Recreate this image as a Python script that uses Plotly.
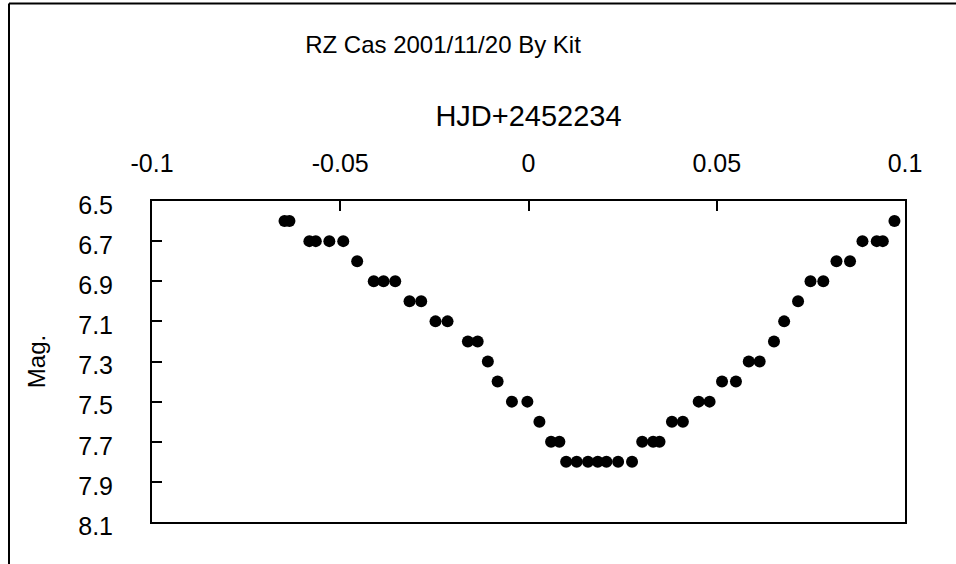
import plotly.graph_objects as go

# Observation times (HJD - 2452234) and visual magnitudes
hjd = [-0.0648, -0.0635, -0.0582, -0.0565, -0.0529, -0.0492, -0.0455,
       -0.0411, -0.0385, -0.0354, -0.0316, -0.0285, -0.0247, -0.0215,
       -0.0161, -0.0135, -0.0108, -0.0082, -0.0044, -0.0003, 0.0029,
       0.0060, 0.0082, 0.0100, 0.0128, 0.0158, 0.0184, 0.0207, 0.0238,
       0.0275, 0.0302, 0.0331, 0.0348, 0.0381, 0.0410, 0.0452, 0.0481,
       0.0514, 0.0551, 0.0585, 0.0614, 0.0652, 0.0679, 0.0716, 0.0749,
       0.0783, 0.0818, 0.0854, 0.0887, 0.0925, 0.0941, 0.0972]
mag = [6.6, 6.6, 6.7, 6.7, 6.7, 6.7, 6.8,
       6.9, 6.9, 6.9, 7.0, 7.0, 7.1, 7.1,
       7.2, 7.2, 7.3, 7.4, 7.5, 7.5, 7.6,
       7.7, 7.7, 7.8, 7.8, 7.8, 7.8, 7.8, 7.8,
       7.8, 7.7, 7.7, 7.7, 7.6, 7.6, 7.5, 7.5,
       7.4, 7.4, 7.3, 7.3, 7.2, 7.1, 7.0, 6.9,
       6.9, 6.8, 6.8, 6.7, 6.7, 6.7, 6.6]

x_ticks = [-0.1, -0.05, 0, 0.05, 0.1]
x_tick_labels = ["-0.1", "-0.05", "0", "0.05", "0.1"]
y_ticks = [6.5, 6.7, 6.9, 7.1, 7.3, 7.5, 7.7, 7.9, 8.1]
y_tick_labels = ["6.5", "6.7", "6.9", "7.1", "7.3", "7.5", "7.7", "7.9", "8.1"]

FONT = "Liberation Sans, Arial, sans-serif"

fig = go.Figure(go.Scatter(
    x=hjd, y=mag, mode="markers",
    marker=dict(color="black", size=12, line=dict(width=0)),
    showlegend=False, hoverinfo="x+y",
))

fig.update_layout(
    width=956, height=564,
    margin=dict(l=152, r=51, t=201, b=42, pad=0),
    paper_bgcolor="white", plot_bgcolor="white",
    font=dict(family=FONT, color="black", size=24),
    title=dict(text="RZ Cas 2001/11/20 By Kit", x=443/956, xanchor="center",
               y=1 - 45/564, yanchor="middle", font=dict(size=24)),
    xaxis=dict(
        side="top", range=[-0.1, 0.1], tickmode="array",
        tickvals=x_ticks, ticktext=x_tick_labels,
        ticks="inside", ticklen=10, tickwidth=2, tickcolor="black",
        showline=True, linewidth=2, linecolor="black", mirror=True,
        showgrid=False, zeroline=False, ticklabelstandoff=17,
        tickfont=dict(size=25),
        title=dict(text="HJD+2452234", font=dict(size=29), standoff=14),
    ),
    yaxis=dict(
        range=[8.1, 6.5], tickmode="array",
        tickvals=y_ticks, ticktext=y_tick_labels,
        ticks="inside", ticklen=10, tickwidth=2, tickcolor="black",
        showline=True, linewidth=2, linecolor="black", mirror=True,
        showgrid=False, zeroline=False, ticklabelstandoff=32,
        ticklabelshift=-4,
        tickfont=dict(size=25),
        title=dict(text="Mag.", font=dict(size=24), standoff=26),
    ),
    shapes=[
        dict(type="line", xref="paper", yref="paper",
             x0=(9 - 152) / 753, x1=(960 - 152) / 753,
             y0=(522 - 5) / 320, y1=(522 - 5) / 320,
             line=dict(color="black", width=2)),
        dict(type="line", xref="paper", yref="paper",
             x0=(9 - 152) / 753, x1=(9 - 152) / 753,
             y0=(522 - 5) / 320, y1=(522 - 570) / 320,
             line=dict(color="black", width=2)),
    ],
)

fig.write_html(
    "out.html",
    config={"displayModeBar": False},
    post_script="document.body.style.margin='0';document.body.style.overflow='hidden';",
)
